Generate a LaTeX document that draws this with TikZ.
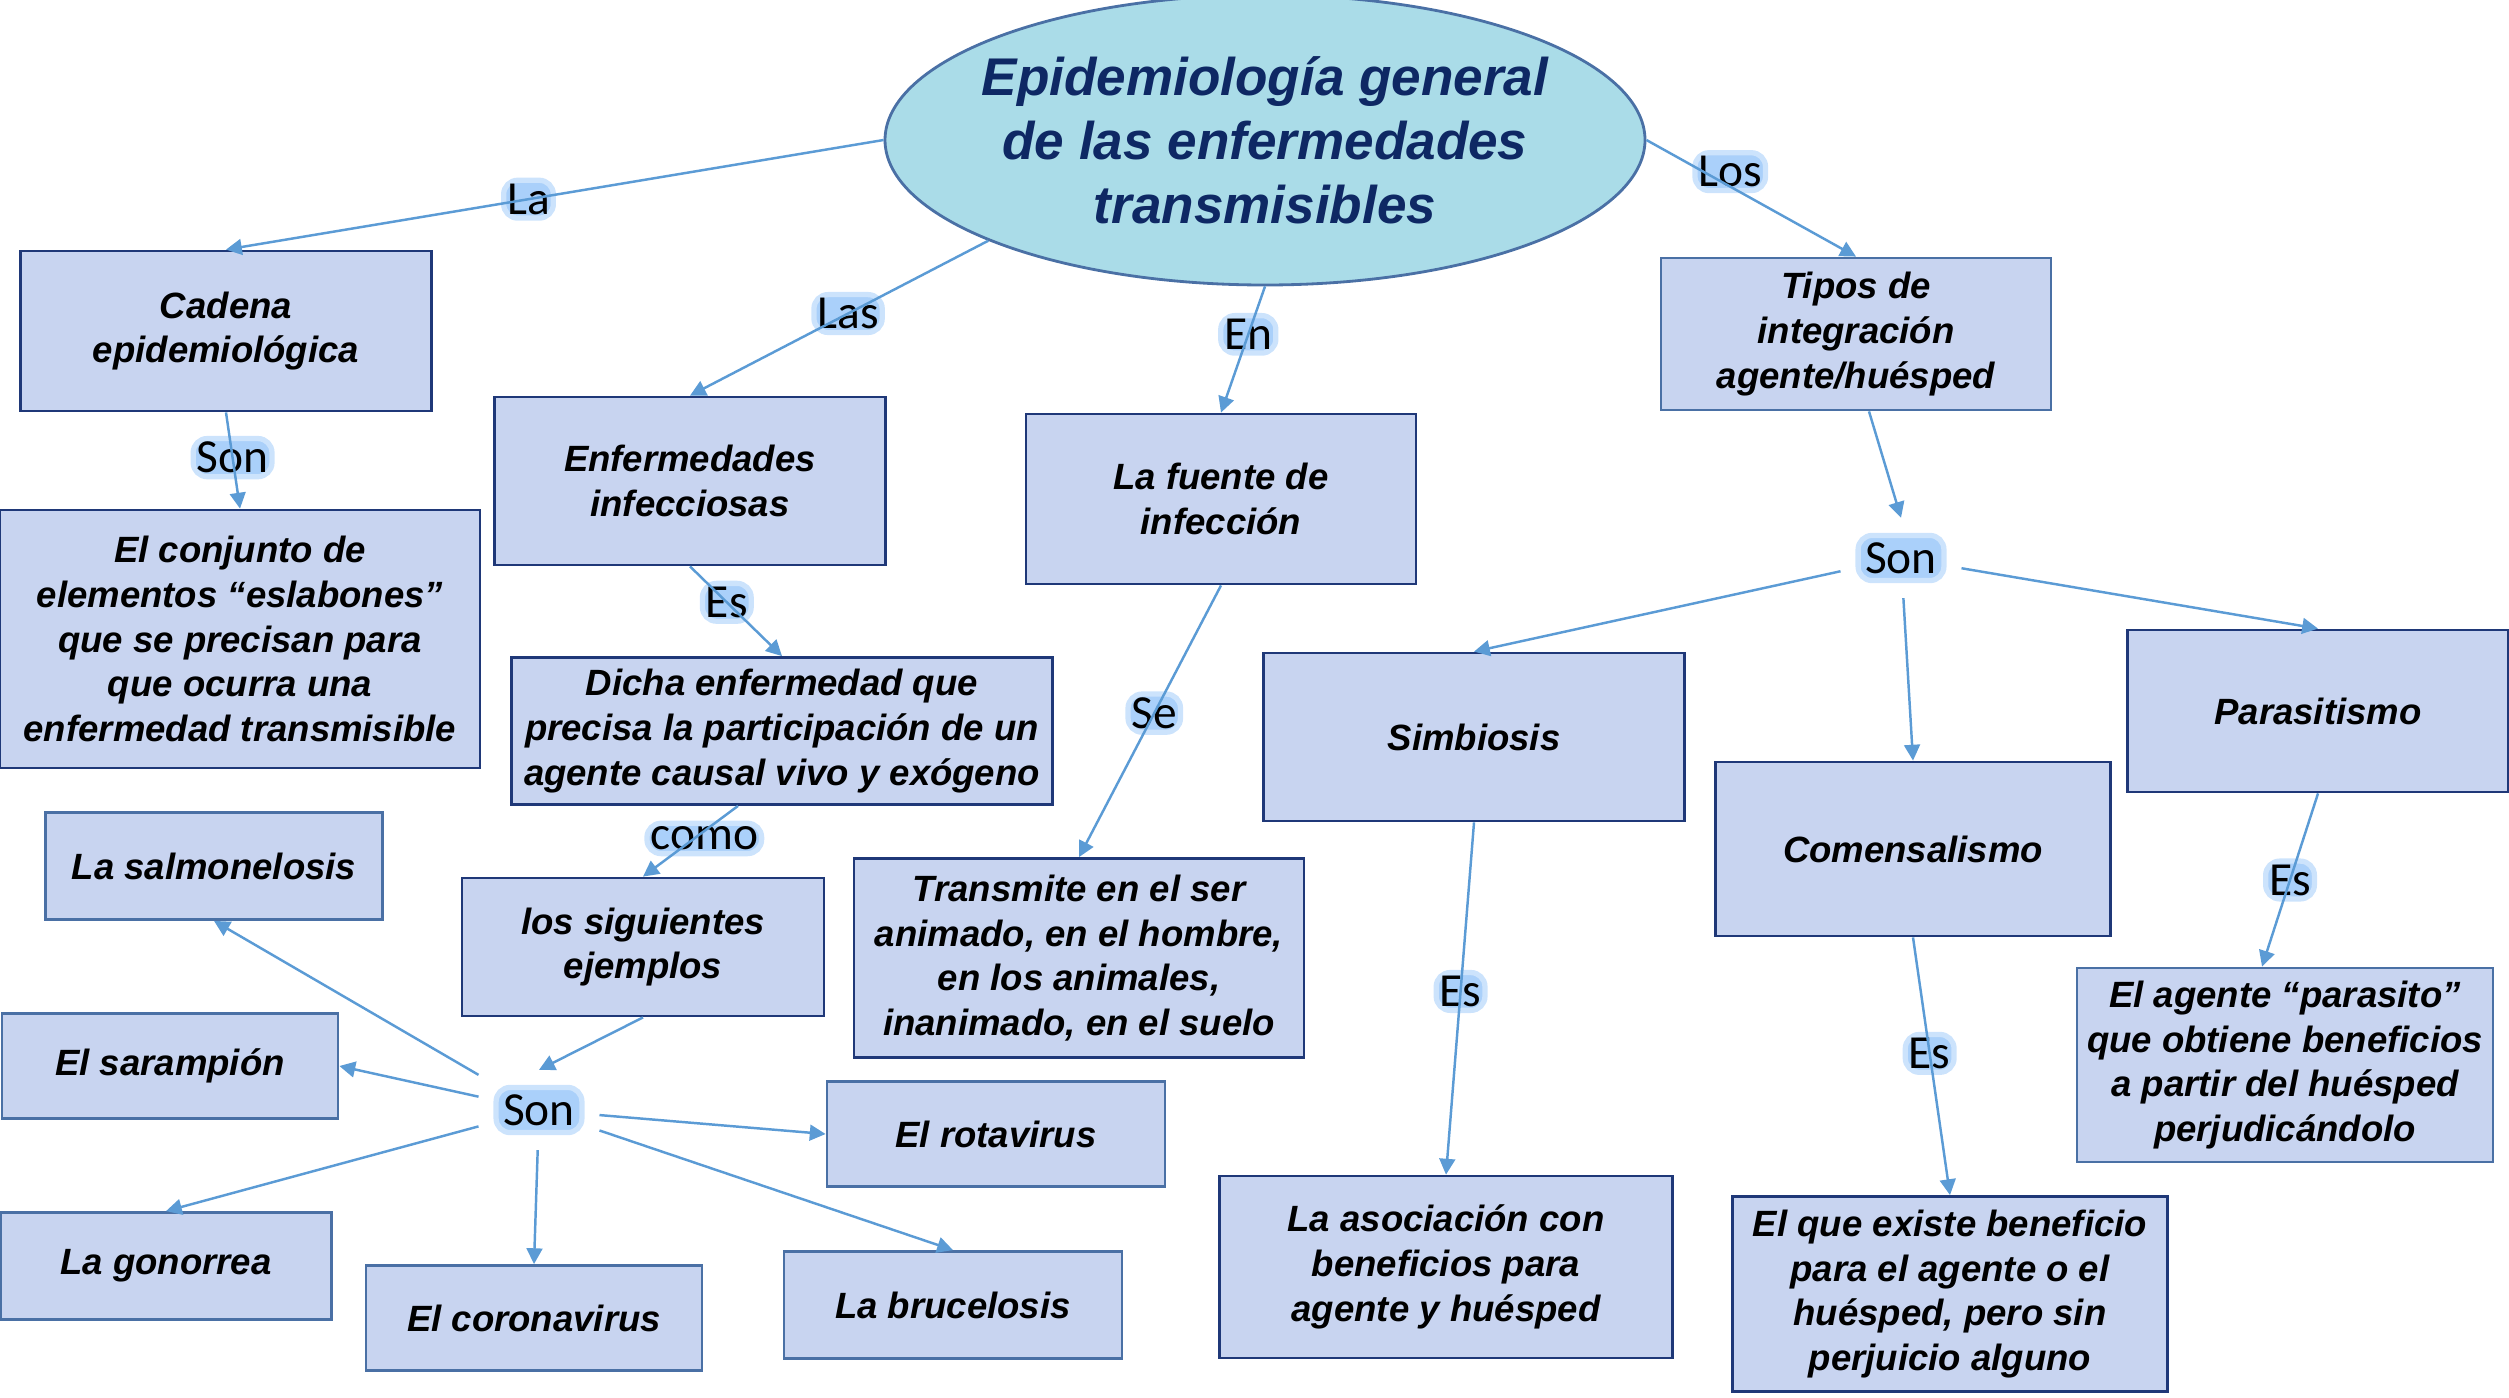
\documentclass[tikz,border=0pt]{standalone}
\usepackage{fontspec}
\setmainfont{Liberation Sans}
\newfontfamily\linkfont{Carlito}
\usepackage{tikz}
\usetikzlibrary{arrows.meta,shapes.geometric,positioning}

\definecolor{navy}{RGB}{31,56,120}
\definecolor{steel}{RGB}{74,112,165}
\definecolor{boxfill}{RGB}{200,212,240}
\definecolor{aqua}{RGB}{170,220,232}
\definecolor{titleblue}{RGB}{14,40,100}
\definecolor{linkblue}{RGB}{91,155,213}
\definecolor{glow}{RGB}{170,208,250}

\begin{document}
\begin{tikzpicture}
[
	conceptbox/.style = {rectangle, draw=navy, line width=0.8pt, fill=boxfill, inner sep=0pt, align=center, font=\bfseries\itshape\fontsize{10.4}{12.7}\selectfont},
	examplebox/.style = {conceptbox, draw=steel},
	topic/.style = {ellipse, draw=steel, line width=0.8pt, fill=aqua, inner sep=0pt, minimum width=7.6cm, minimum height=2.9cm},
	titletext/.style = {align=center, text=titleblue, font=\bfseries\itshape\fontsize{15.1}{18.2}\selectfont},
	linkword/.style = {fill=glow, draw=glow!60!white, line width=1.5pt, rounded corners=4pt, inner sep=1pt, font=\linkfont\fontsize{13.5}{16}\selectfont},
	hub/.style = {linkword, inner sep=2pt, outer sep=5pt},
	arrow/.style = {-{Triangle[length=4.5pt,width=4.5pt]}, draw=linkblue, line width=0.7pt}
]
\useasboundingbox (0,0) rectangle (25.09,-13.97);

% tema central
\node[topic] (title) at (12.65,-1.40) {};
\node[titletext] (titletxt) at (title.center) {Epidemiología general\\de las enfermedades\\transmisibles};

% rama izquierda
\node[conceptbox, minimum width=4.11cm, minimum height=1.60cm] (cadena) at (2.26,-3.31) {Cadena\\epidemiológica};
\node[conceptbox, minimum width=4.80cm, minimum height=2.58cm] (conjunto) at (2.40,-6.39) {El conjunto de\\elementos “eslabones”\\que se precisan para\\que ocurra una\\enfermedad transmisible};
\node[conceptbox, minimum width=3.91cm, minimum height=1.68cm] (enferm) at (6.90,-4.81) {Enfermedades\\infecciosas};
\node[conceptbox, minimum width=5.41cm, minimum height=1.47cm] (dicha) at (7.82,-7.31) {Dicha enfermedad que\\precisa la participación de un\\agente causal vivo y exógeno};
\node[conceptbox, minimum width=3.62cm, minimum height=1.38cm] (ejemplos) at (6.43,-9.47) {los siguientes\\ejemplos};

% ejemplos
\node[hub] (son1) at (5.39,-11.10) {Son};
\node[examplebox, minimum width=3.37cm, minimum height=1.07cm] (salmo) at (2.14,-8.66) {La salmonelosis};
\node[examplebox, minimum width=3.36cm, minimum height=1.05cm] (saram) at (1.70,-10.66) {El sarampión};
\node[examplebox, minimum width=3.31cm, minimum height=1.07cm] (gono) at (1.66,-12.66) {La gonorrea};
\node[examplebox, minimum width=3.36cm, minimum height=1.05cm] (corona) at (5.34,-13.18) {El coronavirus};
\node[examplebox, minimum width=3.38cm, minimum height=1.07cm] (bruce) at (9.53,-13.05) {La brucelosis};
\node[examplebox, minimum width=3.38cm, minimum height=1.05cm] (rota) at (9.96,-11.34) {El rotavirus};

% fuente de infeccion
\node[conceptbox, minimum width=3.90cm, minimum height=1.70cm] (fuente) at (12.21,-4.99) {La fuente de\\infección};
\node[conceptbox, minimum width=4.50cm, minimum height=1.99cm] (transm) at (10.79,-9.58) {Transmite en el ser\\animado, en el hombre,\\en los animales,\\inanimado, en el suelo};

% rama derecha
\node[examplebox, minimum width=3.90cm, minimum height=1.52cm] (tipos) at (18.56,-3.34) {Tipos de\\integración\\agente/huésped};
\node[hub] (son2) at (19.01,-5.58) {Son};
\node[conceptbox, minimum width=4.21cm, minimum height=1.68cm] (simb) at (14.74,-7.37) {Simbiosis};
\node[conceptbox, minimum width=3.95cm, minimum height=1.74cm] (comens) at (19.13,-8.49) {Comensalismo};
\node[conceptbox, minimum width=3.81cm, minimum height=1.62cm] (paras) at (23.18,-7.11) {Parasitismo};
\node[conceptbox, minimum width=4.53cm, minimum height=1.82cm] (asoc) at (14.46,-12.67) {La asociación con\\beneficios para\\agente y huésped};
\node[conceptbox, minimum width=4.35cm, minimum height=1.95cm] (existe) at (19.50,-12.94) {El que existe beneficio\\para el agente o el\\huésped, pero sin\\perjuicio alguno};
\node[examplebox, minimum width=4.16cm, minimum height=1.94cm] (agente) at (22.85,-10.65) {El agente “parasito”\\que obtiene beneficios\\a partir del huésped\\perjudicándolo};

% conectores
\draw[arrow] (title.west) -- node[linkword, pos=.54, behind path] {La} (cadena.north);
\draw[arrow] (title.200) -- node[linkword, pos=.47, behind path] {Las} (enferm.north);
\draw[arrow] (title.south) -- node[linkword, pos=.38, behind path] {En} (fuente.north);
\draw[arrow] (title.east) -- node[linkword, pos=.40, yshift=1.5mm, behind path] {Los} (tipos.north);
\draw[arrow] (cadena.south) -- node[linkword, pos=.47, behind path] {Son} (conjunto.north);
\draw[arrow] (enferm.south) -- node[linkword, pos=.40, behind path] {Es} (dicha.north);
\draw[arrow] ([xshift=-0.44cm] dicha.south) -- node[linkword, pos=.46, xshift=1mm, behind path] {como} (ejemplos.north);
\draw[arrow] (ejemplos.south) -- (son1.north);
\draw[arrow] (son1) -- (salmo.south);
\draw[arrow] (son1) -- (saram.east);
\draw[arrow] (son1) -- (gono.north);
\draw[arrow] (son1) -- (corona.north);
\draw[arrow] (son1) -- (bruce.north);
\draw[arrow] (son1) -- (rota.west);
\draw[arrow] (fuente.south) -- node[linkword, pos=.47, behind path] {Se} (transm.north);

\draw[arrow] ([xshift=0.13cm] tipos.south) -- (son2.north);
\draw[arrow] (son2) -- (simb.north);
\draw[arrow] (son2) -- (comens.north);
\draw[arrow] (son2) -- (paras.north);
\draw[arrow] (simb.south) -- node[linkword, pos=.48, behind path] {Es} (asoc.north);
\draw[arrow] (comens.south) -- node[linkword, pos=.45, behind path] {Es} (existe.north);
\draw[arrow] (paras.south) -- node[linkword, pos=.50, behind path] {Es} ([xshift=-0.23cm] agente.north);

\end{tikzpicture}
\end{document}
